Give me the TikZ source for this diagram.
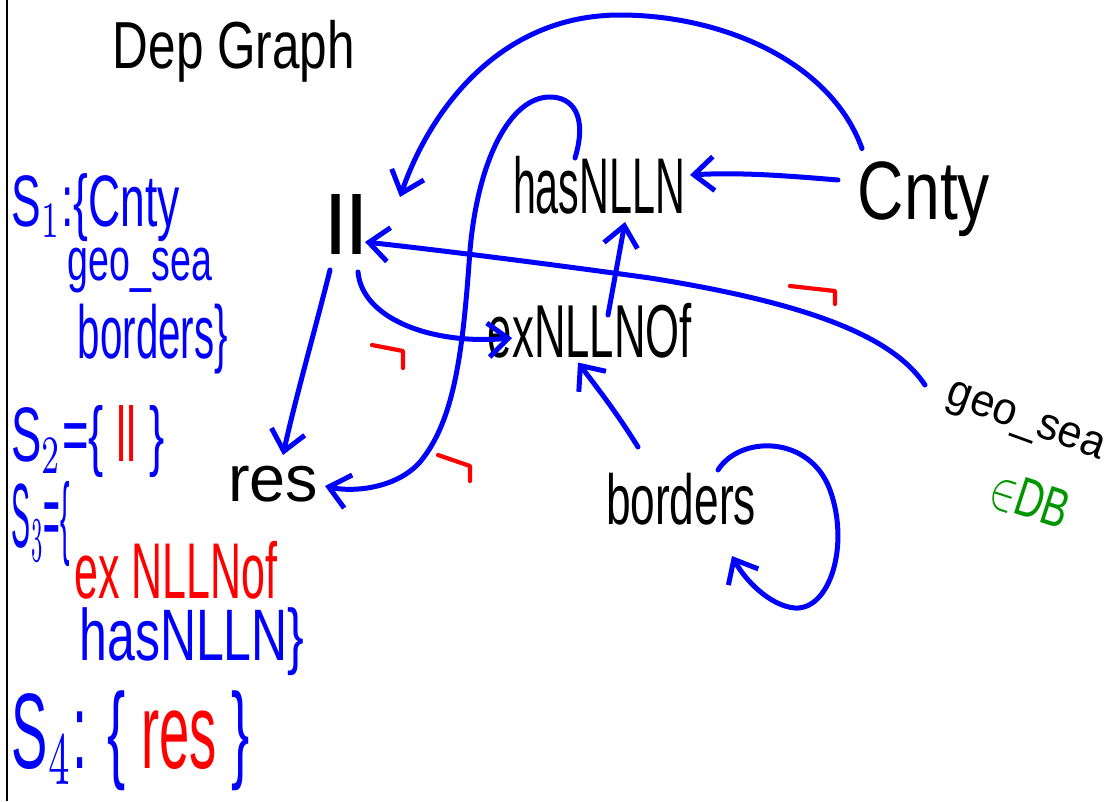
\documentclass[tikz,border=0pt]{standalone}
\usepackage{fontspec}
\setmainfont{Liberation Sans}
\usetikzlibrary{arrows.meta,calc}
\definecolor{hblue}{RGB}{0,0,255}
\definecolor{hred}{RGB}{255,0,0}
\definecolor{hgreen}{RGB}{0,150,0}
\newcommand\fitbox[3]{\resizebox*{#1}{#2}{#3}}
\begin{document}
\begin{tikzpicture}[x=1pt,y=-1pt,
  txt/.style={inner sep=0pt,outer sep=0pt,anchor=center},
  edge/.style={draw=hblue,line width=5pt,line cap=round,line join=round,-{Straight Barb[length=20pt,width=34pt]}},
  redmark/.style={draw=hred,line width=4.2pt,line cap=round,line join=round}]
\useasboundingbox (0,0) rectangle (1113,801);
\fill[white] (0,0) rectangle (1113,801);
\draw[line width=2pt] (7,0) -- (7,801);
% graph nodes
\node[txt] (title) at (234,51) {\fitbox{242pt}{62pt}{Dep Graph}};
\node[txt] (ll) at (347,224) {\fitbox{42pt}{60pt}{ll}};
\node[txt] (hasnlln) at (599,185) {\fitbox{172pt}{58pt}{hasNLLN}};
\node[txt] (cnty) at (924,199) {\fitbox{132pt}{75pt}{Cnty}};
\node[txt] (ex) at (590,331) {\fitbox{204pt}{55pt}{exNLLNOf}};
\node[txt] (res) at (273,484) {\fitbox{90pt}{36pt}{res}};
\node[txt] (borders) at (681,499) {\fitbox{150pt}{52pt}{borders}};
\node[txt,rotate=-20] (geo) at (1025,424) {\fitbox{165pt}{34pt}{geo\_sea}};
\node[txt,rotate=-18,text=hgreen] (db) at (1030,500) {\fitbox{80pt}{40pt}{$\in$DB}};
% strata
\node[txt,text=hblue] (s1) at (96,208) {\fitbox{168pt}{68pt}{S$_1$:\{Cnty}};
\node[txt,text=hblue] (s1b) at (140,271) {\fitbox{144pt}{45pt}{geo\_sea}};
\node[txt,text=hblue] (s1c) at (153,339) {\fitbox{150pt}{70pt}{borders\}}};
\node[txt,text=hblue] (s2) at (88,442) {\fitbox{153pt}{72pt}{S$_2$=\{ \textcolor{hred}{ll} \}}};
\node[txt,text=hblue] (s3) at (41,524) {\fitbox{58pt}{85pt}{S$_3$=\{}};
\node[txt,text=hred] (s3b) at (176,570) {\fitbox{203pt}{58pt}{ex NLLNof}};
\node[txt,text=hblue] (s3c) at (192,642) {\fitbox{225pt}{68pt}{hasNLLN\}}};
\node[txt,text=hblue] (s4) at (131,741) {\fitbox{238pt}{100pt}{S$_4$: \{ \textcolor{hred}{res} \}}};
% edges
\draw[edge] ($(cnty.north west)+(4,-13)$) .. controls (830,60) and (720,15) .. (620,15) .. controls (500,15) and (430,110) .. ($(ll.north east)+(32,3)$);
\draw[edge] ($(cnty.west)+(-20,-19)$) .. controls (790,176) and (740,172) .. ($(hasnlln.east)+(5,-10)$);
\draw[edge] ($(geo.center)+(-100,-39)$) .. controls (895,340) and (820,305) .. (650,278) .. controls (520,260) and (420,248) .. ($(ll.east)+(-3,18)$);
\draw[edge] ($(ll.south)+(11,18)$) .. controls (362,318) and (430,345) .. ($(ex.center)+(-78,7)$);
\draw[edge] ($(ex.center)+(18,-16)$) -- ($(hasnlln.south)+(26,8)$);
\draw[edge] ($(borders.north)+(-43,-26)$) .. controls (615,410) and (595,385) .. ($(ex.south)+(-12,4)$);
\draw[edge] ($(ll.south)+(-17,16)$) .. controls (315,330) and (295,400) .. ($(res.north)+(10,-11)$);
\draw[edge] ($(hasnlln.north)+(-24,2)$) .. controls (588,115) and (572,97) .. (550,97) .. controls (510,97) and (478,160) .. (470,250) .. controls (463,350) and (455,420) .. (420,462) .. controls (395,490) and (350,492) .. ($(res.east)+(7,2)$);
\draw[edge] ($(borders.north east)+(-38,-3)$) .. controls (740,435) and (810,435) .. (830,490) .. controls (850,545) and (830,610) .. (795,608) .. controls (770,606) and (745,580) .. ($(borders.south east)+(-24,31)$);
% red marks
\draw[redmark] (372,345) -- (403,351) -- (403,368);
\draw[redmark] (790,286) -- (835,291) -- (835,304);
\draw[redmark] (438,455) -- (470,466) -- (470,481);
\end{tikzpicture}
\end{document}
